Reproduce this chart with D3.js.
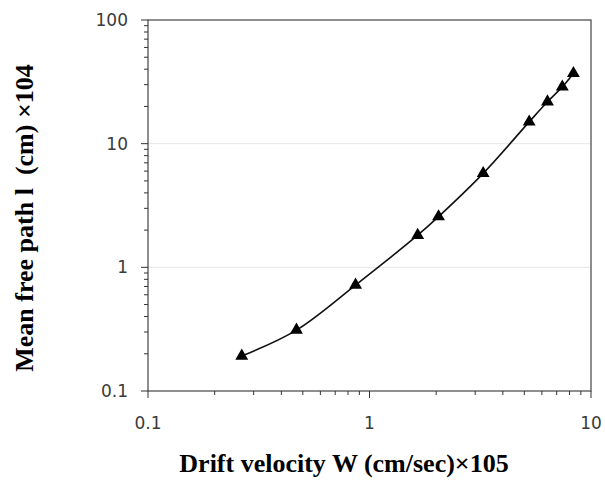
<!DOCTYPE html>
<html>
<head>
<meta charset="utf-8">
<script src="https://cdn.jsdelivr.net/npm/d3@7"></script>
<style>
  body { margin: 0; background: #fff; }
  svg { display: block; }
</style>
</head>
<body>
<div id="chart"></div>
<script>
// Drift velocity W (x 10^5 cm/sec) and mean free path (x 10^4 cm)
const driftVelocity = [0.265, 0.468, 0.865, 1.65, 2.05, 3.26, 5.26, 6.36, 7.42, 8.33];
const meanFreePath = [0.192, 0.311, 0.719, 1.82, 2.57, 5.75, 15.0, 21.8, 28.8, 37.0];

const xTicks = [0.1, 1, 10];
const yTicks = [0.1, 1, 10, 100];
const xTitle = 'Drift velocity W (cm/sec)\u00d7105';
const yTitle = 'Mean free path l  (cm) \u00d7104';

const width = 605;
const height = 481;
const margin = { top: 20, right: 14, bottom: 90, left: 148 };

const svg = d3.select('#chart')
  .append('svg')
  .attr('width', width)
  .attr('height', height);

const x = d3.scaleLog()
  .domain([0.1, 10])
  .range([margin.left, width - margin.right]);

const y = d3.scaleLog()
  .domain([0.1, 100])
  .range([height - margin.bottom, margin.top]);

// minor tick values (2..9 in every decade)
const minor = (lo, hi) => {
  const out = [];
  for (let d = lo; d < hi; d *= 10) {
    for (let k = 2; k <= 9; k++) out.push(d * k);
  }
  return out;
};

// faint horizontal grid at the inner decades
svg.append('g')
  .selectAll('line')
  .data(yTicks.slice(1, -1))
  .join('line')
  .attr('x1', x.range()[0])
  .attr('x2', x.range()[1])
  .attr('y1', d => y(d))
  .attr('y2', d => y(d))
  .attr('stroke', '#e6e6e6')
  .attr('stroke-width', 1);

// plot frame
svg.append('rect')
  .attr('x', x.range()[0])
  .attr('y', y.range()[1])
  .attr('width', x.range()[1] - x.range()[0])
  .attr('height', y.range()[0] - y.range()[1])
  .attr('fill', 'none')
  .attr('stroke', '#444')
  .attr('stroke-width', 1.2);

const tickFont = 'DejaVu Sans, Verdana, sans-serif';

// x axis
const xAxis = svg.append('g')
  .attr('transform', `translate(0,${y.range()[0]})`);

xAxis.selectAll('.minor')
  .data(minor(0.1, 10))
  .join('line')
  .attr('x1', d => x(d))
  .attr('x2', d => x(d))
  .attr('y1', 0)
  .attr('y2', 4)
  .attr('stroke', '#333');

xAxis.selectAll('.major')
  .data(xTicks)
  .join('line')
  .attr('x1', d => x(d))
  .attr('x2', d => x(d))
  .attr('y1', 0)
  .attr('y2', 7)
  .attr('stroke', '#333');

xAxis.selectAll('text')
  .data(xTicks)
  .join('text')
  .attr('x', d => x(d))
  .attr('y', 38)
  .attr('text-anchor', 'middle')
  .attr('font-family', tickFont)
  .attr('font-size', 17)
  .attr('fill', '#3a3a3a')
  .text(d => d3.format('~g')(d));

// y axis
const yAxis = svg.append('g')
  .attr('transform', `translate(${x.range()[0]},0)`);

yAxis.selectAll('.minor')
  .data(minor(0.1, 100))
  .join('line')
  .attr('x1', -4)
  .attr('x2', 0)
  .attr('y1', d => y(d))
  .attr('y2', d => y(d))
  .attr('stroke', '#333');

yAxis.selectAll('.major')
  .data(yTicks)
  .join('line')
  .attr('x1', -7)
  .attr('x2', 0)
  .attr('y1', d => y(d))
  .attr('y2', d => y(d))
  .attr('stroke', '#333');

yAxis.selectAll('text')
  .data(yTicks)
  .join('text')
  .attr('x', -20)
  .attr('y', d => y(d))
  .attr('dy', '0.36em')
  .attr('text-anchor', 'end')
  .attr('font-family', tickFont)
  .attr('font-size', 17)
  .attr('fill', '#3a3a3a')
  .text(d => d3.format('~g')(d));

// smooth fitted curve
const pts = driftVelocity.map((v, i) => [v, meanFreePath[i]]);

const line = d3.line()
  .x(d => x(d[0]))
  .y(d => y(d[1]))
  .curve(d3.curveCatmullRom.alpha(0.5));

svg.append('path')
  .datum(pts)
  .attr('d', line)
  .attr('fill', 'none')
  .attr('stroke', '#111')
  .attr('stroke-width', 1.6);

// triangle markers
svg.append('g')
  .selectAll('path')
  .data(pts)
  .join('path')
  .attr('transform', d => `translate(${x(d[0])},${y(d[1])})`)
  .attr('d', d3.symbol(d3.symbolTriangle, 72))
  .attr('fill', '#000');

// axis titles
svg.append('text')
  .attr('x', 344)
  .attr('y', 472)
  .attr('text-anchor', 'middle')
  .attr('font-family', 'Liberation Serif, Times New Roman, serif')
  .attr('font-weight', 'bold')
  .attr('font-size', 26)
  .attr('fill', '#000')
  .text(xTitle);

svg.append('text')
  .attr('transform', 'translate(33,218) rotate(-90)')
  .attr('text-anchor', 'middle')
  .attr('font-family', 'Liberation Serif, Times New Roman, serif')
  .attr('font-weight', 'bold')
  .attr('font-size', 26)
  .attr('fill', '#000')
  .style('white-space', 'pre')
  .text(yTitle);
</script>
</body>
</html>
